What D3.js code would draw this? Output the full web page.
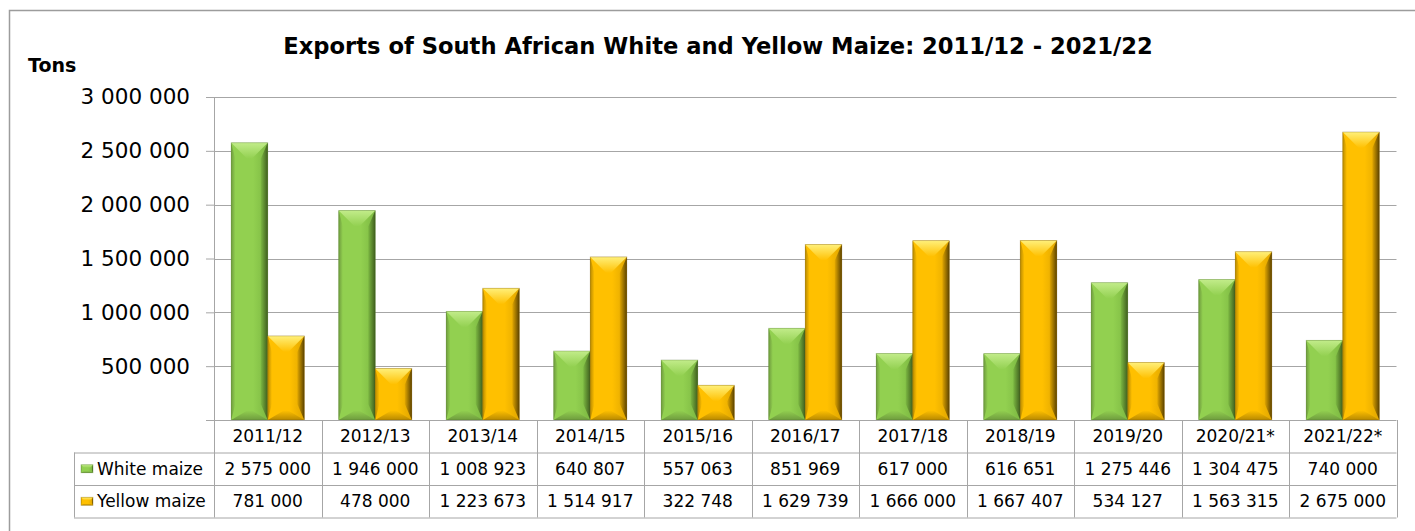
<!DOCTYPE html>
<html>
<head>
    <meta charset="utf-8">
    <title>Exports of South African White and Yellow Maize</title>
    <script src="https://d3js.org/d3.v7.min.js"></script>
    <style>
        html, body { margin: 0; padding: 0; background: white; }
        svg { display: block; }
        text { font-family: "DejaVu Sans", Verdana, sans-serif; fill: #000; }
    </style>
</head>
<body>
<div id="chart"></div>
<script>
    const categories = ["2011/12", "2012/13", "2013/14", "2014/15", "2015/16", "2016/17",
        "2017/18", "2018/19", "2019/20", "2020/21*", "2021/22*"];
    const whiteMaize = [2575000, 1946000, 1008923, 640807, 557063, 851969,
        617000, 616651, 1275446, 1304475, 740000];
    const yellowMaize = [781000, 478000, 1223673, 1514917, 322748, 1629739,
        1666000, 1667407, 534127, 1563315, 2675000];
    const seriesNames = ["White maize", "Yellow maize"];
    const yTicks = [500000, 1000000, 1500000, 2000000, 2500000, 3000000];

    const seriesColors = {
        "White maize": { face: "#92d050", light: "#c2ec8a", dark: "#3f5e1e", shade: "#7cb842", edge: "#6f9c3e" },
        "Yellow maize": { face: "#ffc000", light: "#fff07a", dark: "#5c4300", shade: "#e0a600", edge: "#b98a00" }
    };

    const width = 1415, height = 531;
    const plot = { left: 214, right: 1396.5, top: 97, bottom: 420 };
    const rowH = 32.5;
    const legendLeft = 74;

    const fmt = d3.formatLocale({ decimal: ".", thousands: " ", grouping: [3], currency: ["", ""] }).format(",");

    const svg = d3.select("#chart").append("svg")
        .attr("width", width)
        .attr("height", height);

    // outer frame (runs off the right and bottom)
    svg.append("rect")
        .attr("x", 9.5).attr("y", 10.5)
        .attr("width", 1440).attr("height", 560)
        .attr("fill", "white")
        .attr("stroke", "#9c9c9c")
        .attr("stroke-width", 1.5);

    // scales
    const x0 = d3.scaleBand()
        .domain(categories)
        .range([plot.left, plot.right])
        .paddingInner(0.32)
        .paddingOuter(0.16);

    const x1 = d3.scaleBand()
        .domain(seriesNames)
        .range([0, x0.bandwidth()]);

    const y = d3.scaleLinear()
        .domain([0, 3000000])
        .range([plot.bottom, plot.top]);

    // title
    const title = svg.append("text")
        .attr("x", 718)
        .attr("y", 54)
        .attr("text-anchor", "middle")
        .style("font-weight", "bold")
        .style("font-size", "22px")
        .text("Exports of South African White and Yellow Maize: 2011/12 - 2021/22");
    // squeeze the title to the reference width
    const tw = title.node().getComputedTextLength();
    title.style("font-size", (22 * 870 / tw).toFixed(2) + "px");

    svg.append("text")
        .attr("x", 28)
        .attr("y", 72)
        .style("font-weight", "bold")
        .style("font-size", "19px")
        .text("Tons");

    // gridlines + y axis
    const yAxis = svg.append("g")
        .attr("transform", `translate(${plot.left},0)`)
        .call(d3.axisLeft(y).tickValues(yTicks).tickSize(8).tickPadding(16).tickFormat(fmt));
    yAxis.select(".domain").remove();
    yAxis.selectAll(".tick line").attr("stroke", "#a6a6a6");
    yAxis.selectAll(".tick text")
        .style("font-family", "'DejaVu Sans', Verdana, sans-serif")
        .style("font-size", "21.5px")
        .attr("fill", "#000");

    svg.append("g")
        .selectAll("line")
        .data(yTicks)
        .join("line")
        .attr("x1", plot.left).attr("x2", plot.right)
        .attr("y1", (d) => Math.round(y(d)) + 0.5)
        .attr("y2", (d) => Math.round(y(d)) + 0.5)
        .attr("stroke", "#a6a6a6");

    svg.append("line")
        .attr("x1", plot.left + 0.5).attr("x2", plot.left + 0.5)
        .attr("y1", plot.top).attr("y2", plot.bottom)
        .attr("stroke", "#a6a6a6");

    // gradients for the bevelled bars
    const defs = svg.append("defs");
    seriesNames.forEach((s, i) => {
        const c = seriesColors[s];
        const grad = (id, x2, y2, stops) => {
            const g = defs.append("linearGradient").attr("id", id)
                .attr("x1", 0).attr("y1", 0).attr("x2", x2).attr("y2", y2);
            stops.forEach(([o, col]) => g.append("stop").attr("offset", o).attr("stop-color", col));
        };
        grad(`face${i}`, 1, 0, [[0, c.face], [0.6, c.face], [1, c.shade]]);
        grad(`top${i}`, 0, 1, [[0, c.light], [1, c.face]]);
        grad(`right${i}`, 1, 0, [[0, c.shade], [1, c.dark]]);
        grad(`left${i}`, 1, 0, [[0, c.edge], [1, c.face]]);
        grad(`bottom${i}`, 0, 1, [[0, c.face], [1, c.edge]]);
    });

    function bevelBar(g, bx, by, bw, bh, si, bMax) {
        const b = Math.min(bMax, bw / 2 - 2, bh / 2);
        const rb = Math.min(b * 0.45, 7);
        const pts = (arr) => arr.map((p) => p.join(",")).join(" ");
        g.append("rect")
            .attr("x", bx).attr("y", by).attr("width", bw).attr("height", bh)
            .attr("fill", `url(#face${si})`);
        // left
        g.append("polygon")
            .attr("points", pts([[bx, by], [bx + rb * 0.6, by + b], [bx + rb * 0.6, by + bh - b], [bx, by + bh]]))
            .attr("fill", `url(#left${si})`);
        // right
        g.append("polygon")
            .attr("points", pts([[bx + bw, by], [bx + bw - rb, by + b], [bx + bw - rb, by + bh - b], [bx + bw, by + bh]]))
            .attr("fill", `url(#right${si})`);
        // top
        g.append("polygon")
            .attr("points", pts([[bx, by], [bx + bw, by], [bx + bw - b, by + b], [bx + b, by + b]]))
            .attr("fill", `url(#top${si})`);
        // bottom
        g.append("polygon")
            .attr("points", pts([[bx, by + bh], [bx + bw, by + bh], [bx + bw - b, by + bh - b * 0.6], [bx + b, by + bh - b * 0.6]]))
            .attr("fill", `url(#bottom${si})`);
        g.append("rect")
            .attr("x", bx).attr("y", by).attr("width", bw).attr("height", bh)
            .attr("fill", "none").attr("stroke", seriesColors[seriesNames[si]].dark)
            .attr("stroke-opacity", 0.35).attr("stroke-width", 0.8);
    }

    // bars
    const series = [whiteMaize, yellowMaize];
    const barLayer = svg.append("g");
    categories.forEach((cat, ci) => {
        series.forEach((vals, si) => {
            const bx = x0(cat) + x1(seriesNames[si]);
            const by = y(vals[ci]);
            bevelBar(barLayer, bx, by, x1.bandwidth(), y(0) - by, si, 16);
        });
    });

    // data table
    const table = svg.append("g");
    const lineCol = "#a6a6a6";
    const rows = [plot.bottom, plot.bottom + rowH, plot.bottom + 2 * rowH, plot.bottom + 3 * rowH];

    table.append("line")
        .attr("x1", plot.left - 8).attr("x2", plot.right)
        .attr("y1", rows[0] + 0.5).attr("y2", rows[0] + 0.5)
        .attr("stroke", lineCol);
    [rows[1], rows[2], rows[3]].forEach((ry) => {
        table.append("line")
            .attr("x1", legendLeft).attr("x2", plot.right)
            .attr("y1", ry + 0.5).attr("y2", ry + 0.5)
            .attr("stroke", lineCol);
    });
    table.append("line")
        .attr("x1", legendLeft + 0.5).attr("x2", legendLeft + 0.5)
        .attr("y1", rows[1]).attr("y2", rows[3])
        .attr("stroke", lineCol);

    const colEdges = categories.map((c) => x0(c) - x0.step() * x0.paddingOuter()).concat([plot.right]);
    colEdges.forEach((cx) => {
        table.append("line")
            .attr("x1", Math.round(cx) + 0.5).attr("x2", Math.round(cx) + 0.5)
            .attr("y1", rows[0]).attr("y2", rows[3])
            .attr("stroke", lineCol);
    });

    const cellText = (tx, ty, str, anchor) => table.append("text")
        .attr("x", tx).attr("y", ty)
        .attr("text-anchor", anchor || "middle")
        .attr("dy", "0.36em")
        .style("font-size", "17px")
        .text(str);

    categories.forEach((cat, ci) => {
        const cx = x0(cat) + x0.bandwidth() / 2;
        cellText(cx, rows[0] + rowH / 2, cat);
        cellText(cx, rows[1] + rowH / 2, fmt(whiteMaize[ci]));
        cellText(cx, rows[2] + rowH / 2, fmt(yellowMaize[ci]));
    });

    seriesNames.forEach((s, si) => {
        const ry = rows[1 + si] + rowH / 2;
        bevelBar(table, 81, ry - 4, 12, 8, si, 3);
        cellText(97, ry, s, "start");
    });
</script>
</body>
</html>
